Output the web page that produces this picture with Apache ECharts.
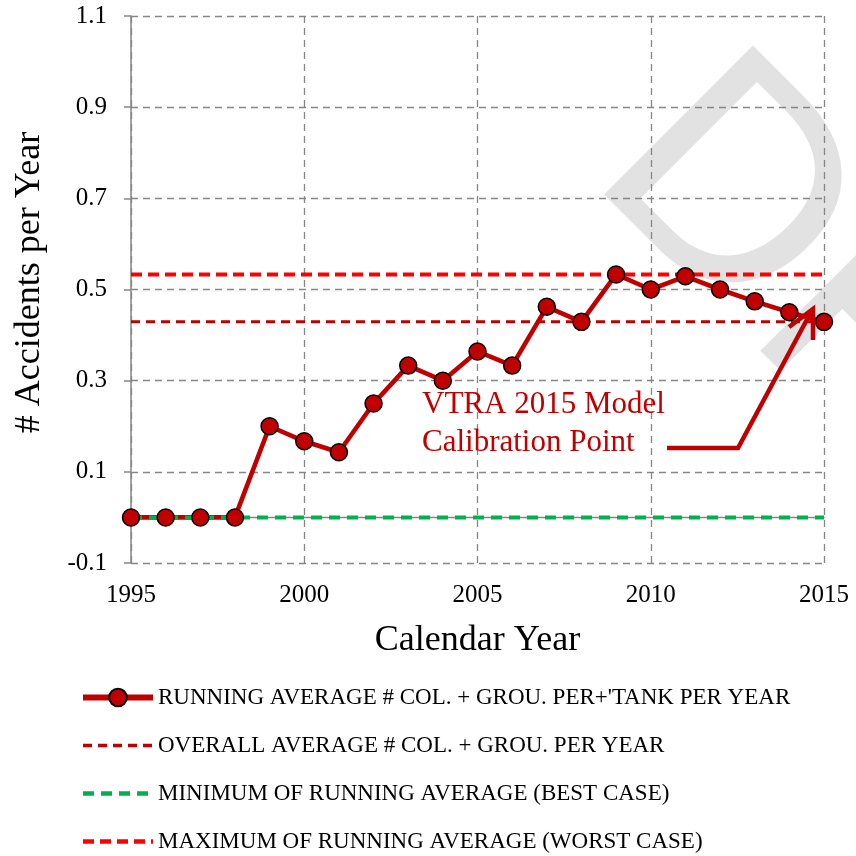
<!DOCTYPE html>
<html>
<head>
<meta charset="utf-8">
<script src="https://cdn.jsdelivr.net/npm/echarts@6/dist/echarts.min.js"></script>
<style>
html,body{margin:0;padding:0;background:#fff;}
#main{width:856px;height:856px;}
</style>
</head>
<body>
<div id="main"></div>
<script>
// x: calendar years
var years = [1995,1996,1997,1998,1999,2000,2001,2002,2003,2004,2005,2006,2007,2008,2009,2010,2011,2012,2013,2014,2015];
// running average # accidents per year
var runningAvg = [0,0,0,0,0.200,0.167,0.143,0.250,0.333,0.300,0.364,0.333,0.462,0.429,0.533,0.500,0.529,0.500,0.474,0.450,0.429];
// reference levels
var overallAvg = 0.429;
var minRunning = 0;
var maxRunning = 0.533;
// tick labels
var yTicks = [-0.1,0.1,0.3,0.5,0.7,0.9,1.1];
var xRange = [1995,2015];

var names = [
    "RUNNING AVERAGE # COL. + GROU. PER+'TANK PER YEAR",
    "OVERALL AVERAGE # COL. + GROU. PER YEAR",
    "MINIMUM OF RUNNING AVERAGE (BEST CASE)",
    "MAXIMUM OF RUNNING AVERAGE (WORST CASE)"
];

var serif = '"Liberation Serif", "DejaVu Serif", serif';
var gridGray = '#868686';

function flat(v){
    return [[xRange[0],v],[xRange[1],v]];
}

var chart = echarts.init(document.getElementById('main'));
chart.setOption({
    animation:false,
    backgroundColor:'#fff',
    grid:{left:131,right:32,top:16,bottom:293},
    xAxis:[{
        type:'value',min:xRange[0],max:xRange[1],interval:5,
        axisLine:{show:false,onZero:false},
        axisTick:{show:false},
        axisLabel:{margin:20,fontSize:25,fontFamily:serif,color:'#000',
            showMinLabel:true,showMaxLabel:true,
            formatter:function(v){return String(v);}},
        splitLine:{show:true,lineStyle:{color:gridGray,width:1.3,type:[7,5]}},
        name:'Calendar Year',nameLocation:'middle',nameGap:60,
        nameTextStyle:{fontSize:36,fontFamily:serif,color:'#000'}
    },{
        // line at y = 0 like the original's horizontal axis
        type:'value',min:xRange[0],max:xRange[1],position:'top',
        axisLine:{show:true,onZero:true,lineStyle:{color:gridGray,width:1.3}},
        axisTick:{show:false},axisLabel:{show:false},splitLine:{show:false}
    }],
    yAxis:{
        type:'value',min:-0.1,max:1.1,interval:0.2,
        axisLine:{show:true,onZero:false,lineStyle:{color:gridGray,width:1.5}},
        axisTick:{show:true,length:7,customValues:yTicks,lineStyle:{color:gridGray,width:1.5}},
        axisLabel:{margin:24,fontSize:25,fontFamily:serif,color:'#000',customValues:yTicks,
            formatter:function(v){return v.toFixed(1);}},
        splitLine:{show:true,lineStyle:{color:gridGray,width:1.3,type:[7,5]}},
        name:'# Accidents per Year',nameLocation:'middle',nameGap:83,
        nameTextStyle:{fontSize:36,fontFamily:serif,color:'#000',padding:[0,0,0,14]}
    },
    legend:{
        orient:'vertical',left:80,top:686,padding:0,
        itemWidth:70,itemHeight:22,itemGap:25,
        data:[
            {name:names[0],lineStyle:{width:6}},
            // dashed items: hide the legend marker, keep only the dashed line
            {name:names[1],lineStyle:{width:3.5},itemStyle:{opacity:0}},
            {name:names[2],lineStyle:{width:4.5},itemStyle:{opacity:0}},
            {name:names[3],lineStyle:{width:4.5},itemStyle:{opacity:0}}
        ],
        textStyle:{fontSize:23,lineHeight:22,fontFamily:serif,color:'#000'}
    },
    series:[{
        name:names[0],type:'line',
        data:years.map(function(y,i){return [y,runningAvg[i]];}),
        symbol:'circle',symbolSize:17,
        lineStyle:{color:'#c00000',width:4.6},
        itemStyle:{color:'#c00000',borderColor:'#000',borderWidth:1.5}
    },{
        name:names[1],type:'line',data:flat(overallAvg),symbol:'none',
        lineStyle:{color:'#c00000',width:3,type:[9,6]},itemStyle:{color:'#c00000'}
    },{
        name:names[2],type:'line',data:flat(minRunning),symbol:'none',
        lineStyle:{color:'#00b050',width:4,type:[11,7]},itemStyle:{color:'#00b050'}
    },{
        name:names[3],type:'line',data:flat(maxRunning),symbol:'none',
        lineStyle:{color:'#ff0000',width:4,type:[11,6]},itemStyle:{color:'#ff0000'}
    }],
    graphic:[{
        // faint watermark behind the plot
        type:'text',z:-1,silent:true,x:646,y:117,rotation:-Math.PI/4,
        style:{text:'DRAFT',fontSize:306,fontFamily:'"Liberation Sans", sans-serif',fill:'#e2e2e2',verticalAlign:'middle'}
    },{
        type:'text',z:5,x:422,y:424,
        style:{text:'VTRA 2015 Model\nCalibration Point',fontSize:31,fontFamily:serif,fill:'#c00000',verticalAlign:'middle',lineHeight:38}
    },{
        type:'polyline',z:10,
        shape:{points:[[667,448],[738,448],[811,312]]},
        style:{stroke:'#c00000',lineWidth:4.5,fill:null}
    },{
        type:'polyline',z:10,
        shape:{points:[[789,327],[813,309],[813,340]]},
        style:{stroke:'#c00000',lineWidth:4.5,fill:null}
    }]
});
</script>
</body>
</html>
